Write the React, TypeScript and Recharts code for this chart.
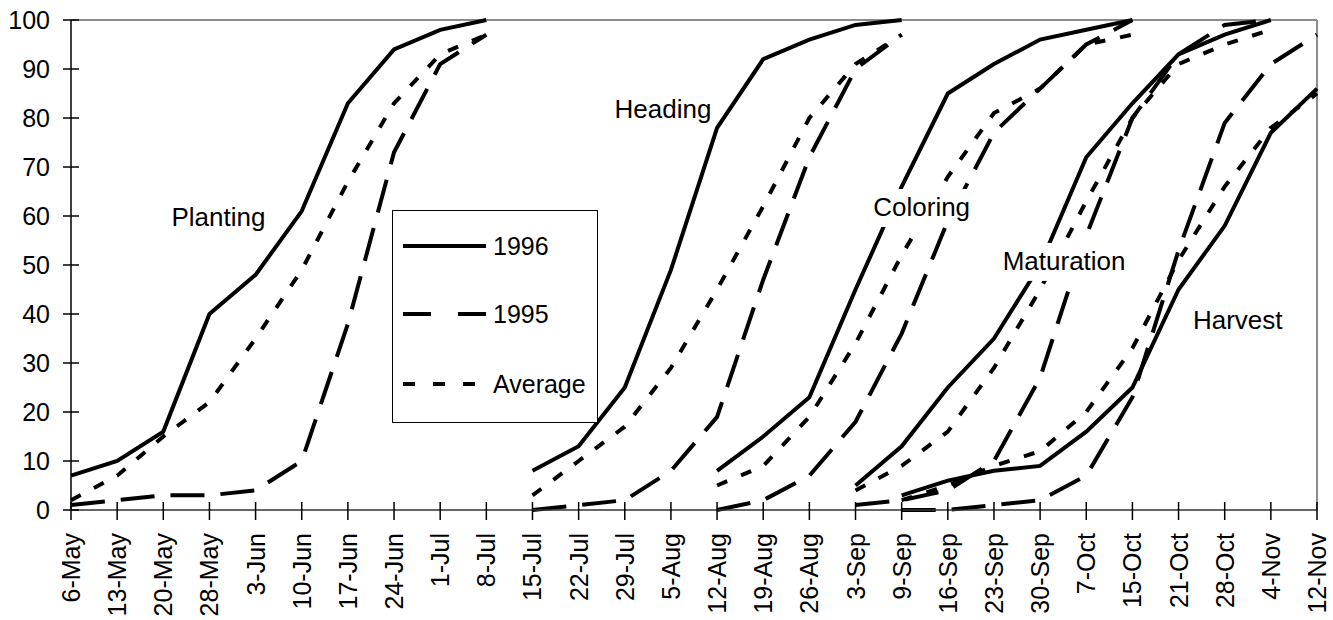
import React, { useLayoutEffect, useRef, useState } from "react";
import { LineChart, Line, XAxis, YAxis, ReferenceLine, ReferenceDot } from "recharts";

const categories = [
  "6-May", "13-May", "20-May", "28-May", "3-Jun", "10-Jun", "17-Jun", "24-Jun", "1-Jul", "8-Jul",
  "15-Jul", "22-Jul", "29-Jul", "5-Aug", "12-Aug", "19-Aug", "26-Aug", "3-Sep", "9-Sep", "16-Sep",
  "23-Sep", "30-Sep", "7-Oct", "15-Oct", "21-Oct", "28-Oct", "4-Nov", "12-Nov",
];

const yTicks = [0, 10, 20, 30, 40, 50, 60, 70, 80, 90, 100];

// each stage starts at a category index and runs for as many weeks as it has values
const plantingStart = 0;
const planting1996 = [7, 10, 16, 40, 48, 61, 83, 94, 98, 100];
const planting1995 = [1, 2, 3, 3, 4, 10, 38, 73, 91, 97];
const plantingAvg = [2, 7, 15, 22, 35, 49, 67, 83, 93, 97];

const headingStart = 10;
const heading1996 = [8, 13, 25, 49, 78, 92, 96, 99, 100];
const heading1995 = [0, 1, 2, 8, 19, 47, 72, 90, 97];
const headingAvg = [3, 10, 17, 29, 45, 62, 80, 91, 97];

const coloringStart = 14;
const coloring1996 = [8, 15, 23, 45, 66, 85, 91, 96, 98, 100];
const coloring1995 = [0, 2, 7, 18, 36, 59, 77, 86, 95, 100];
const coloringAvg = [5, 9, 19, 34, 52, 68, 81, 86, 95, 97];

const maturationStart = 17;
const maturation1996 = [5, 13, 25, 35, 50, 72, 83, 93, 97, 100];
const maturation1995 = [1, 2, 4, 10, 27, 56, 80, 93, 99, 100];
const maturationAvg = [4, 9, 16, 29, 45, 63, 80, 91, 95, 98];

const harvestStart = 18;
const harvest1996 = [3, 6, 8, 9, 16, 25, 45, 58, 77, 86];
const harvest1995 = [0, 0, 1, 2, 7, 23, 53, 79, 91, 97];
const harvestAvg = [2, 5, 9, 12, 20, 33, 51, 66, 78, 85];

const stages = [
  { key: "planting", start: plantingStart, y1996: planting1996, y1995: planting1995, avg: plantingAvg },
  { key: "heading", start: headingStart, y1996: heading1996, y1995: heading1995, avg: headingAvg },
  { key: "coloring", start: coloringStart, y1996: coloring1996, y1995: coloring1995, avg: coloringAvg },
  { key: "maturation", start: maturationStart, y1996: maturation1996, y1995: maturation1995, avg: maturationAvg },
  { key: "harvest", start: harvestStart, y1996: harvest1996, y1995: harvest1995, avg: harvestAvg },
];

const annotations = [
  { text: "Planting", x: "28-May", y: 58, dx: 9 },
  { text: "Heading", x: "5-Aug", y: 80, dx: -8 },
  { text: "Coloring", x: "9-Sep", y: 60, dx: 20 },
  { text: "Maturation", x: "30-Sep", y: 49, dx: 24 },
  { text: "Harvest", x: "28-Oct", y: 37, dx: 13 },
];

const data = categories.map((name, i) => {
  const row: Record<string, string | number | null> = { name };
  for (const s of stages) {
    const k = i - s.start;
    const inside = k >= 0 && k < s.y1996.length;
    row[`${s.key}1996`] = inside ? s.y1996[k] : null;
    row[`${s.key}1995`] = inside ? s.y1995[k] : null;
    row[`${s.key}Avg`] = inside ? s.avg[k] : null;
  }
  return row;
});

const FONT = '"Liberation Sans", Arial, Helvetica, sans-serif';
const DASH_1995 = "34 16";
const DASH_AVG = "11 15";

function YTick({ x, y, payload }: any) {
  return (
    <g>
      <line x1={x - 8} x2={x + 8} y1={y} y2={y} stroke="#000" strokeWidth={1.5} />
      <text x={x - 21} y={y} dy="0.36em" textAnchor="end" fontSize={25} fontFamily={FONT} fill="#000">
        {payload.value}
      </text>
    </g>
  );
}

function XTick({ x, y, payload }: any) {
  const ty = y + 23;
  return (
    <g>
      <line x1={x} x2={x} y1={y - 8} y2={y + 10} stroke="#000" strokeWidth={1.5} />
      <text
        x={x}
        y={ty}
        dy="0.36em"
        textAnchor="end"
        transform={`rotate(-90 ${x} ${ty})`}
        fontSize={25}
        fontFamily={FONT}
        fill="#000"
      >
        {payload.value}
      </text>
    </g>
  );
}

// text label with an opaque white box behind it, like the Excel data labels
function BoxedText({ x, y, text }: { x: number; y: number; text: string }) {
  const ref = useRef<SVGTextElement>(null);
  const [w, setW] = useState(0);
  useLayoutEffect(() => {
    if (ref.current) setW(ref.current.getBBox().width);
  }, [text]);
  return (
    <g>
      {w > 0 && <rect x={x - w / 2 - 1} y={y - 27} width={w + 2} height={38} fill="#fff" />}
      <text ref={ref} x={x} y={y} textAnchor="middle" fontSize={26} fontFamily={FONT} fill="#000">
        {text}
      </text>
    </g>
  );
}

function stageLabel(text: string, dx: number) {
  return (props: any) => {
    const vb = props.viewBox || {};
    const cx = (vb.x ?? 0) + (vb.width ?? 0) / 2 + dx;
    const cy = (vb.y ?? 0) + (vb.height ?? 0) / 2;
    return <BoxedText x={cx} y={cy} text={text} />;
  };
}

function LegendBox() {
  const rows = [
    { label: "1996", dash: undefined, top: 245 },
    { label: "1995", dash: "28 27", top: 313 },
    { label: "Average", dash: "12 18", top: 383 },
  ];
  return (
    <div
      style={{
        position: "absolute",
        left: 392,
        top: 210,
        width: 204,
        height: 211,
        border: "1px solid #000",
        background: "#fff",
        fontFamily: FONT,
      }}
    >
      {rows.map((r) => (
        <div
          key={r.label}
          style={{ position: "absolute", left: 0, top: r.top - 210 - 16, height: 32, display: "flex", alignItems: "center" }}
        >
          <svg width={100} height={32} style={{ display: "block" }}>
            <line x1={10} x2={93} y1={16} y2={16} stroke="#000" strokeWidth={4} strokeDasharray={r.dash} />
          </svg>
          <span style={{ fontSize: 25, color: "#000", lineHeight: "32px" }}>{r.label}</span>
        </div>
      ))}
    </div>
  );
}

export default function App() {
  return (
    <div style={{ position: "absolute", left: 0, top: 0, width: 1333, height: 620, background: "#fff" }}>
      <LineChart width={1333} height={620} data={data} margin={{ top: 20, right: 16, bottom: 0, left: 0 }}>
        <ReferenceLine y={100} stroke="#8c8c8c" strokeWidth={2} />
        <ReferenceLine x="12-Nov" stroke="#8c8c8c" strokeWidth={2} />
        <XAxis
          dataKey="name"
          interval={0}
          height={110}
          tickSize={0}
          tickMargin={0}
          tickLine={false}
          axisLine={{ stroke: "#333", strokeWidth: 1.5 }}
          tick={<XTick />}
        />
        <YAxis
          domain={[0, 100]}
          ticks={yTicks}
          width={71}
          tickSize={0}
          tickMargin={0}
          tickLine={false}
          axisLine={{ stroke: "#000", strokeWidth: 1.5 }}
          tick={<YTick />}
        />
        {stages.map((s) => (
          <Line
            key={`${s.key}1996`}
            dataKey={`${s.key}1996`}
            stroke="#000"
            strokeWidth={4}
            dot={false}
            activeDot={false}
            isAnimationActive={false}
          />
        ))}
        {stages.map((s) => (
          <Line
            key={`${s.key}1995`}
            dataKey={`${s.key}1995`}
            stroke="#000"
            strokeWidth={4}
            strokeDasharray={DASH_1995}
            dot={false}
            activeDot={false}
            isAnimationActive={false}
          />
        ))}
        {stages.map((s) => (
          <Line
            key={`${s.key}Avg`}
            dataKey={`${s.key}Avg`}
            stroke="#000"
            strokeWidth={4}
            strokeDasharray={DASH_AVG}
            dot={false}
            activeDot={false}
            isAnimationActive={false}
          />
        ))}
        {annotations.map((a) => (
          <ReferenceDot
            key={a.text}
            x={a.x}
            y={a.y}
            r={1}
            fill="none"
            stroke="none"
            label={{ content: stageLabel(a.text, a.dx) }}
          />
        ))}
      </LineChart>
      <LegendBox />
    </div>
  );
}
